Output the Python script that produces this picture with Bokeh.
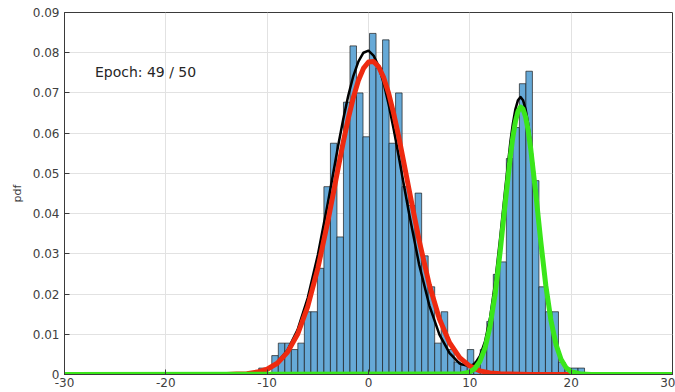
import numpy as np
from bokeh.plotting import figure
from bokeh.models import Range1d, FixedTicker, CustomJSTickFormatter, Label
from bokeh.embed import file_html
from bokeh.resources import INLINE

# ---------------- data ----------------
# histogram: 50 bins, first edge and bin width, density heights
bin_start = -10.83
bin_width = 0.643
hist_density = [0.0016, 0.0, 0.0047, 0.0078, 0.0078, 0.0062, 0.0078, 0.0156, 0.0156, 0.0264,
                0.0467, 0.0575, 0.0342, 0.0677, 0.0817, 0.0700, 0.0591, 0.0848, 0.0762, 0.0832,
                0.0575, 0.0700, 0.0467, 0.0420, 0.0451, 0.0295, 0.0218, 0.0078, 0.0156, 0.0062,
                0.0031, 0.0023, 0.0062, 0.0031, 0.0062, 0.0132, 0.0249, 0.0280, 0.0537, 0.0614,
                0.0723, 0.0754, 0.0482, 0.0218, 0.0156, 0.0156, 0.0031, 0.0016, 0.0016, 0.0016]

# black curve (mixture pdf)
black_x = [-30, -14, -13, -12, -11, -10, -9, -8, -7, -6, -5, -4, -3.5, -3, -2.5, -2, -1.5, -1, -0.5, 0,
           0.5, 1, 1.5, 2, 2.5, 3, 3.5, 4, 5, 6, 7, 8, 9, 10, 10.5, 11, 11.5, 12, 12.5, 13,
           13.5, 14, 14.25, 14.5, 14.75, 15, 15.25, 15.5, 15.75, 16, 16.5, 17, 17.5, 18, 18.5, 19,
           19.5, 20, 21, 22, 30]
black_y = [0, 0.00003, 0.00008, 0.00023, 0.0006, 0.0014, 0.0030, 0.0060, 0.0111, 0.0190, 0.0297, 0.0428,
           0.0498, 0.0568, 0.0634, 0.0693, 0.0742, 0.0778, 0.0800, 0.0805, 0.0793, 0.0766, 0.0724,
           0.0670, 0.0608, 0.0540, 0.0470, 0.0401, 0.0273, 0.0172, 0.0099, 0.0053, 0.0027, 0.0020,
           0.0027, 0.0046, 0.0082, 0.0142, 0.0229, 0.0341, 0.0463, 0.0578, 0.0624, 0.0660, 0.0682,
           0.0690, 0.0682, 0.0660, 0.0624, 0.0578, 0.0463, 0.0340, 0.0228, 0.0140, 0.0079, 0.0041,
           0.0019, 0.0008, 0.0001, 0, 0]

# red curve (component 1)
red_x = [-30, -14, -13, -12, -11, -10, -9, -8, -7, -6, -5, -4, -3.5, -3, -2.5, -2, -1.5, -1, -0.5, 0,
         0.5, 1, 1.5, 2, 2.5, 3, 3.5, 4, 5, 6, 7, 8, 9, 10, 11, 12, 13, 14, 16, 30]
red_y = [0, 0.00003, 0.0001, 0.0002, 0.0006, 0.0013, 0.0028, 0.0055, 0.0100, 0.0169, 0.0264, 0.0382,
         0.0447, 0.0513, 0.0577, 0.0636, 0.0688, 0.0731, 0.0761, 0.0777, 0.0778, 0.0765, 0.0738,
         0.0698, 0.0647, 0.0589, 0.0525, 0.0460, 0.0333, 0.0223, 0.0138, 0.0079, 0.0042, 0.0021,
         0.0009, 0.0004, 0.00016, 0.0001, 0, 0]

# green curve (component 2)
green_x = [-30, 9, 10, 10.5, 11, 11.5, 12, 12.5, 13, 13.5, 14, 14.25, 14.5, 14.75, 15, 15.25, 15.5,
           15.75, 16, 16.5, 17, 17.5, 18, 18.5, 19, 19.5, 20, 21, 22, 30]
green_y = [0, 0.0001, 0.0006, 0.0015, 0.0033, 0.0066, 0.0121, 0.0201, 0.0307, 0.0428, 0.0543, 0.0591,
           0.0629, 0.0654, 0.0665, 0.0660, 0.0641, 0.0608, 0.0563, 0.0452, 0.0331, 0.0221, 0.0135,
           0.0075, 0.0038, 0.0017, 0.0007, 0.0001, 0, 0]

x_ticks = [-30, -20, -10, 0, 10, 20, 30]
x_tick_labels = ["-30", "-20", "-10", "0", "10", "20", "30"]
y_ticks = [0, 0.01, 0.02, 0.03, 0.04, 0.05, 0.06, 0.07, 0.08, 0.09]
y_tick_labels = ["0", "0.01", "0.02", "0.03", "0.04", "0.05", "0.06", "0.07", "0.08", "0.09"]

annotation_text = "Epoch: 49 / 50"
y_axis_title = "pdf"

# ---------------- figure ----------------
AX = "#3a3a3a"
TXT = "#404040"
FONT = "DejaVu Sans"

p = figure(width=675, height=392, x_range=Range1d(-30, 30), y_range=Range1d(0, 0.09),
           output_backend="svg", toolbar_location=None,
           min_border_left=64, min_border_right=3, min_border_top=12, min_border_bottom=18)
p.background_fill_color = "white"
p.border_fill_color = "white"
p.outline_line_color = AX
p.outline_line_width = 1

fmt_code = """
const i = tvals.findIndex(t => Math.abs(t - tick) < 1e-9);
return i >= 0 ? tlabels[i] : String(tick);
"""
p.xaxis.ticker = FixedTicker(ticks=x_ticks)
p.xaxis.formatter = CustomJSTickFormatter(args=dict(tvals=x_ticks, tlabels=x_tick_labels), code=fmt_code)
p.yaxis.ticker = FixedTicker(ticks=y_ticks)
p.yaxis.formatter = CustomJSTickFormatter(args=dict(tvals=y_ticks, tlabels=y_tick_labels), code=fmt_code)

for ax in (p.xaxis[0], p.yaxis[0]):
    ax.major_tick_in = 5
    ax.major_tick_out = 0
    ax.minor_tick_line_color = None
    ax.axis_line_color = AX
    ax.major_tick_line_color = AX
    ax.major_label_text_font = FONT
    ax.major_label_text_font_size = "12px"
    ax.major_label_text_color = TXT
p.xaxis.major_label_standoff = 3
p.yaxis.major_label_standoff = 5
p.yaxis.axis_label = y_axis_title
p.yaxis.axis_label_text_font = FONT
p.yaxis.axis_label_text_font_size = "11px"
p.yaxis.axis_label_text_font_style = "normal"
p.yaxis.axis_label_text_color = TXT
p.yaxis.axis_label_standoff = 6

p.xgrid.ticker = FixedTicker(ticks=x_ticks)
p.ygrid.ticker = FixedTicker(ticks=y_ticks)
p.xgrid.grid_line_color = "#e2e2e2"
p.ygrid.grid_line_color = "#e2e2e2"

edges = bin_start + bin_width * np.arange(len(hist_density) + 1)
p.quad(left=edges[:-1], right=edges[1:], bottom=0, top=hist_density,
       fill_color="#66a9d7", line_color="#1c1c1c", line_width=0.7)

p.line(black_x, black_y, line_color="black", line_width=2.5, line_join="round")
p.line(red_x, red_y, line_color="#ee2a10", line_width=5, line_join="round")
p.line(green_x, green_y, line_color="#3ae61a", line_width=5, line_join="round")

p.add_layout(Label(x=-27, y=0.0752, text=annotation_text, text_font=FONT,
                   text_font_size="14px", text_baseline="middle", text_align="left",
                   text_color="#262626"))

open("out.html", "w").write(file_html(p, INLINE))
